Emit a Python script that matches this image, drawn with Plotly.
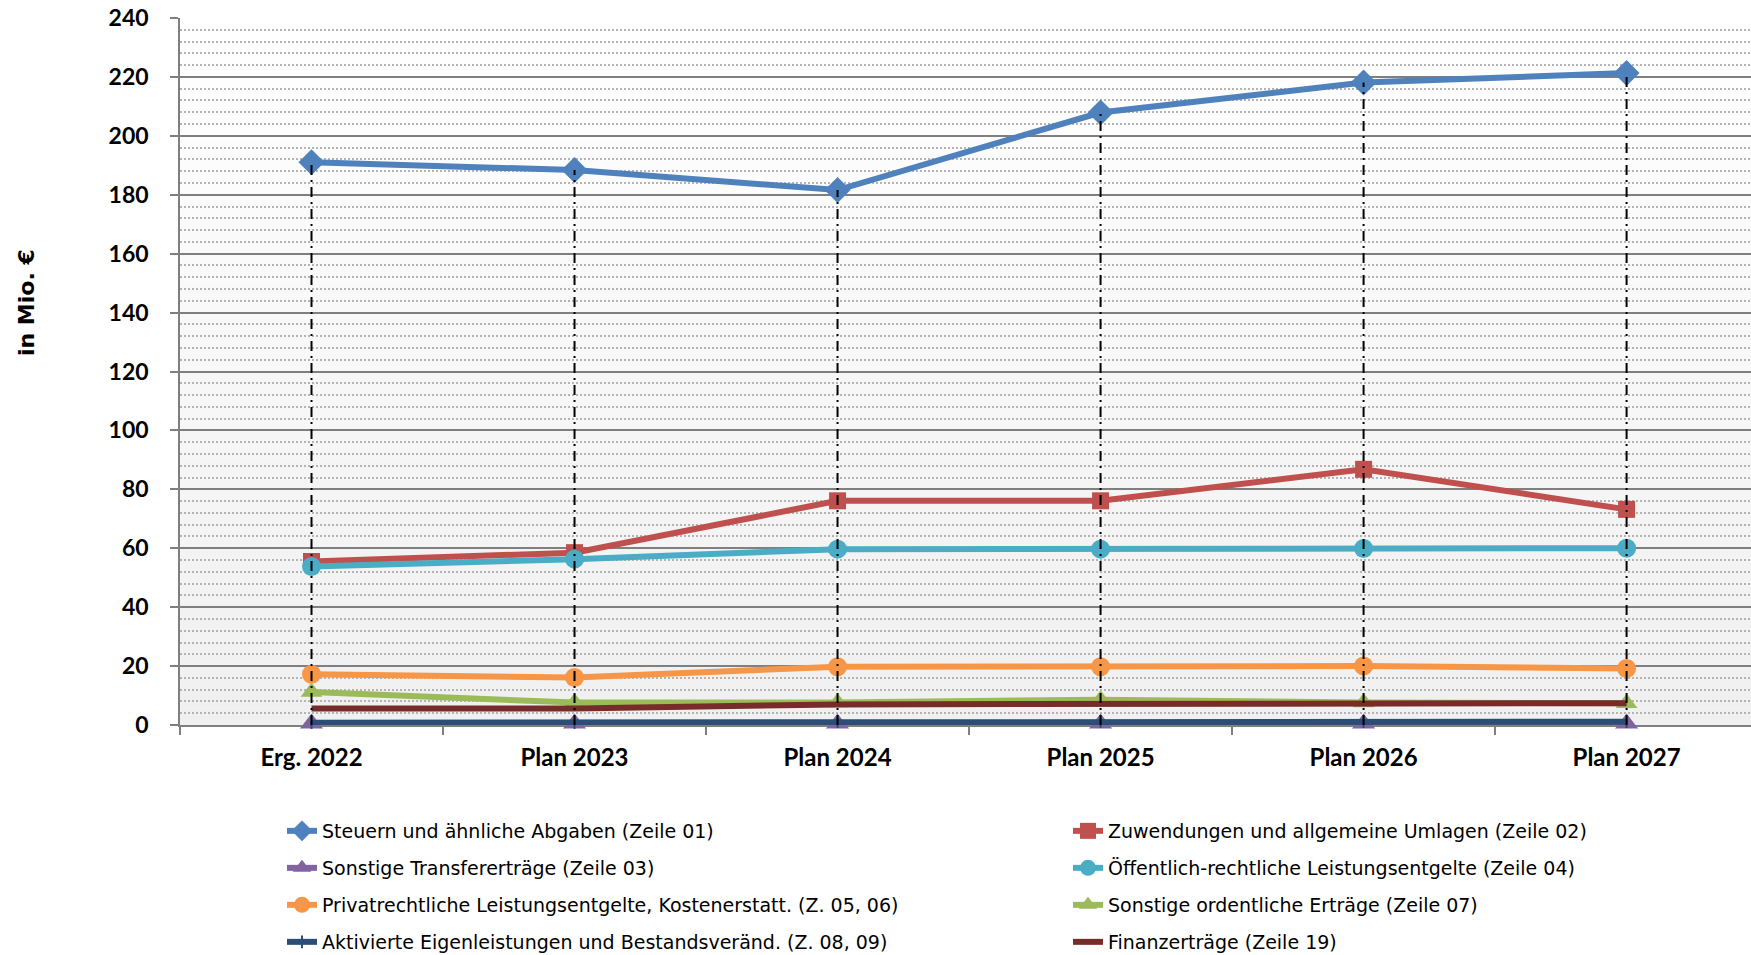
import plotly.graph_objects as go

categories = ["Erg. 2022", "Plan 2023", "Plan 2024", "Plan 2025", "Plan 2026", "Plan 2027"]

steuern = [191.0, 188.4, 181.6, 207.9, 218.1, 221.3]
zuwendungen = [55.5, 58.5, 76.1, 76.1, 86.8, 73.2]
transfer = [0.5, 0.5, 0.5, 0.5, 0.5, 0.5]
oeffentlich = [53.8, 56.3, 59.7, 59.7, 59.9, 60.0]
privat = [17.2, 16.1, 19.8, 19.8, 20.0, 19.2]
sonstige = [11.2, 7.6, 7.6, 8.6, 7.6, 7.4]
aktivierte = [0.8, 0.8, 1.1, 1.1, 1.1, 1.1]
finanz = [5.6, 5.6, 7.0, 7.0, 7.2, 7.4]

y_ticks = [0, 20, 40, 60, 80, 100, 120, 140, 160, 180, 200, 220, 240]

series = [
    ("Steuern und ähnliche Abgaben (Zeile 01)", steuern, "#4F81BD", "diamond", 20),
    ("Zuwendungen und allgemeine Umlagen (Zeile 02)", zuwendungen, "#C0504D", "square", 17),
    ("Sonstige Transfererträge (Zeile 03)", transfer, "#8064A2", "triangle-up", 20),
    ("Öffentlich-rechtliche Leistungsentgelte (Zeile 04)", oeffentlich, "#4BACC6", "circle", 19),
    ("Privatrechtliche Leistungsentgelte, Kostenerstatt. (Z. 05, 06)", privat, "#F79646", "circle", 19),
    ("Sonstige ordentliche Erträge (Zeile 07)", sonstige, "#9BBB59", "triangle-up", 19),
    ("Aktivierte Eigenleistungen und Bestandsveränd. (Z. 08, 09)", aktivierte, "#2C4D75", "line-ns", 9),
    ("Finanzerträge (Zeile 19)", finanz, "#772C2A", None, 0),
]

fig = go.Figure()

# background gradient bands
n_bands = 40
for i in range(n_bands):
    t = i / (n_bands - 1)
    c = int(round(255 - t * (255 - 240)))
    fig.add_shape(type="rect", xref="x domain", yref="y domain",
                  x0=0, x1=1, y0=1 - (i + 1) / n_bands, y1=1 - i / n_bands,
                  fillcolor=f"rgb({c},{c},{c})", line=dict(width=0), layer="below")

legend_names = ["legend"] + [f"legend{i}" for i in range(2, 9)]

for idx, (name, vals, color, sym, size) in enumerate(series):
    if sym:
        mode = "lines+markers"
        marker = dict(symbol=sym, size=size, color=color,
                      line=dict(width=2 if sym == "line-ns" else 0, color=color))
    else:
        mode = "lines"
        marker = None
    fig.add_trace(go.Scatter(
        x=categories, y=vals, name=name, mode=mode,
        line=dict(color=color, width=6),
        marker=marker, legend=legend_names[idx], cliponaxis=False,
    ))

# drop lines from highest series to the axis
drop_x, drop_y = [], []
for c, v in zip(categories, steuern):
    drop_x += [c, c, None]
    drop_y += [0, v, None]
fig.add_trace(go.Scatter(x=drop_x, y=drop_y, mode="lines", showlegend=False,
                         line=dict(color="black", width=2, dash="10px,5px,2px,5px"),
                         hoverinfo="skip", cliponaxis=False))

plot_left, plot_w = 180, 1571
plot_top, plot_h = 18, 707
rows_px = [831, 868, 905, 942]
cols_px = [282, 1068]

legend_layouts = {}
for idx, lname in enumerate(legend_names):
    r, c = divmod(idx, 2)
    legend_layouts[lname] = dict(
        orientation="h", xanchor="left", yanchor="middle",
        x=(cols_px[c] - plot_left) / plot_w,
        y=(plot_top + plot_h - rows_px[r]) / plot_h,
        bgcolor="rgba(0,0,0,0)",
        font=dict(family="DejaVu Sans", size=19, color="black"),
        itemwidth=30,
    )

fig.update_layout(
    width=1751, height=955,
    margin=dict(l=plot_left, r=0, t=plot_top, b=955 - plot_top - plot_h, autoexpand=False),
    paper_bgcolor="white", plot_bgcolor="white",
    **legend_layouts,
    xaxis=dict(
        type="category", range=[-0.5, 5.473],
        showgrid=False, showline=True, linecolor="#7F7F7F", linewidth=1.5,
        ticks="outside", tickson="boundaries", ticklen=8, tickcolor="#7F7F7F", tickwidth=1.5,
        tickfont=dict(family="Lato", size=24, color="black", weight="bold"),
        ticklabelstandoff=10, layer="below traces",
    ),
    yaxis=dict(
        range=[0, 240], tickmode="array", tickvals=y_ticks,
        ticktext=[str(v) for v in y_ticks],
        showgrid=True, gridcolor="#7F7F7F", gridwidth=1.5,
        minor=dict(dtick=4, showgrid=True, gridcolor="#B4B4B4", gridwidth=1.5, griddash="2px,2px"),
        showline=True, linecolor="#7F7F7F", linewidth=1.5,
        ticks="outside", ticklen=8, tickcolor="#7F7F7F", tickwidth=1.5,
        tickfont=dict(family="Lato", size=23, color="black", weight="bold"),
        ticklabelstandoff=17, zeroline=False, layer="below traces",
    ),
    annotations=[dict(
        text="in Mio. €", textangle=-90, xref="paper", yref="paper",
        x=(26 - plot_left) / plot_w, y=(plot_top + plot_h - 303) / plot_h,
        xanchor="center", yanchor="middle",
        showarrow=False, font=dict(family="DejaVu Sans", size=22, color="black", weight="bold"),
    )],
)

fig.write_html("out.html", config={"displayModeBar": False},
               post_script="document.body.style.margin='0';")
